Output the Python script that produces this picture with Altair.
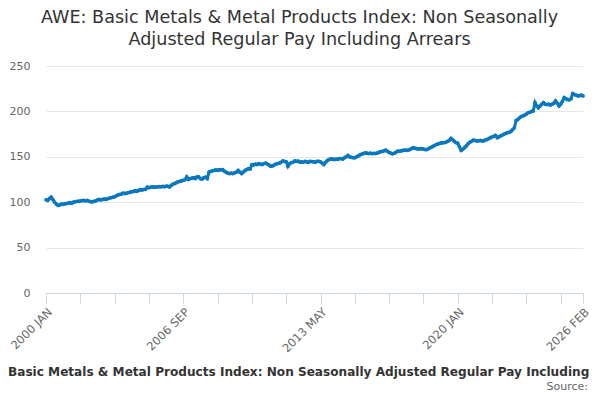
import altair as alt
import pandas as pd

MONTHS = ["JAN", "FEB", "MAR", "APR", "MAY", "JUN", "JUL", "AUG", "SEP", "OCT", "NOV", "DEC"]

y2000 = [102.7, 102.0, 104.0, 105.7, 103.0, 100.0, 98.0, 96.5, 97.0, 98.0, 97.5, 98.3]
y2001 = [98.5, 99.0, 99.5, 98.8, 100.0, 100.5, 101.0, 100.8, 101.5, 101.7, 102.0, 101.5]
y2002 = [102.0, 101.2, 100.4, 100.6, 101.0, 101.5, 102.5, 103.0, 102.5, 103.0, 103.5, 103.0]
y2003 = [104.0, 104.5, 105.0, 105.5, 106.0, 107.0, 108.0, 108.6, 109.0, 110.0, 109.5, 110.0]
y2004 = [110.5, 111.0, 111.5, 112.0, 112.5, 112.0, 113.0, 113.8, 113.5, 114.0, 114.2, 116.7]
y2005 = [116.0, 116.5, 116.7, 117.0, 116.5, 117.0, 117.2, 117.0, 117.5, 117.0, 117.8, 117.5]
y2006 = [116.8, 118.5, 120.0, 120.5, 121.5, 122.5, 123.0, 123.5, 124.0, 124.8, 128.0, 125.0]
y2007 = [126.0, 126.5, 127.0, 126.0, 128.0, 127.8, 126.0, 125.5, 127.0, 127.5, 126.0, 133.0]
y2008 = [134.0, 134.5, 135.0, 135.5, 135.0, 136.0, 135.5, 136.0, 134.0, 133.0, 132.0, 131.5]
y2009 = [132.0, 131.5, 132.5, 133.0, 135.0, 133.0, 131.5, 133.0, 135.0, 136.0, 137.0, 136.5]
y2010 = [141.4, 141.0, 142.0, 141.5, 142.5, 142.0, 141.5, 142.5, 143.0, 142.0, 141.0, 139.5]
y2011 = [140.0, 141.0, 142.0, 142.5, 143.0, 144.0, 145.4, 145.0, 144.5, 139.5, 142.5, 143.5]
y2012 = [144.0, 145.4, 145.0, 145.2, 144.0, 144.5, 144.0, 145.0, 144.5, 144.0, 145.0, 144.8]
y2013 = [144.5, 144.0, 145.0, 145.0, 144.5, 143.0, 141.5, 144.0, 146.0, 147.0, 147.8, 147.5]
y2014 = [147.0, 147.5, 147.2, 148.0, 148.0, 147.5, 149.0, 150.0, 151.5, 150.0, 149.5, 149.0]
y2015 = [149.0, 150.0, 151.0, 152.0, 153.0, 153.5, 154.4, 154.0, 153.5, 154.0, 153.5, 153.7]
y2016 = [153.7, 154.0, 155.0, 155.5, 156.0, 156.5, 157.4, 156.0, 155.0, 154.0, 153.3, 154.0]
y2017 = [155.0, 156.3, 156.0, 156.5, 157.0, 157.4, 157.0, 157.4, 158.0, 159.0, 160.0, 159.5]
y2018 = [159.0, 158.5, 159.0, 158.9, 158.5, 158.0, 158.0, 159.0, 160.0, 161.0, 162.0, 163.0]
y2019 = [164.0, 164.4, 165.0, 165.5, 165.5, 166.0, 167.0, 168.0, 170.3, 169.0, 167.0, 165.5]
y2020 = [165.0, 161.0, 157.0, 158.5, 160.0, 162.0, 164.4, 166.0, 167.0, 168.3, 168.0, 167.5]
y2021 = [167.6, 168.0, 167.6, 167.5, 168.5, 169.0, 170.0, 171.0, 172.0, 172.5, 173.6, 171.0]
y2022 = [172.0, 173.0, 174.0, 175.0, 175.8, 176.5, 177.0, 178.0, 180.0, 182.0, 190.0, 191.0]
y2023 = [193.0, 194.3, 195.0, 196.0, 197.0, 198.7, 199.0, 200.0, 200.5, 209.8, 206.0, 204.0]
y2024 = [206.0, 208.0, 209.8, 208.0, 207.5, 208.0, 207.0, 208.0, 209.0, 211.6, 209.0, 206.0]
y2025 = [208.0, 211.0, 215.3, 214.0, 213.0, 212.7, 214.0, 219.7, 218.5, 218.0, 217.0, 217.5]
y2026 = [217.9, 217.0]

years = {
    2000: y2000, 2001: y2001, 2002: y2002, 2003: y2003, 2004: y2004, 2005: y2005,
    2006: y2006, 2007: y2007, 2008: y2008, 2009: y2009, 2010: y2010, 2011: y2011,
    2012: y2012, 2013: y2013, 2014: y2014, 2015: y2015, 2016: y2016, 2017: y2017,
    2018: y2018, 2019: y2019, 2020: y2020, 2021: y2021, 2022: y2022, 2023: y2023,
    2024: y2024, 2025: y2025, 2026: y2026,
}

labels, values = [], []
for yr, vals in years.items():
    for i, v in enumerate(vals):
        labels.append(f"{yr} {MONTHS[i]}")
        values.append(v)

shown_labels = ["2000 JAN", "2006 SEP", "2013 MAY", "2020 JAN", "2026 FEB"]
tick_values = labels[0:len(labels) - 1:20] + [labels[-1]]

title_lines = ["AWE: Basic Metals & Metal Products Index: Non Seasonally",
               "Adjusted Regular Pay Including Arrears"]
caption = "Basic Metals & Metal Products Index: Non Seasonally Adjusted Regular Pay Including Arrears"
source = "Source:"

df = pd.DataFrame({"month": labels, "value": values})

label_expr = "indexof(" + str(shown_labels) + ", datum.value) >= 0 ? datum.value : ''"

base = alt.Chart(df)

line = base.mark_line(
    color="#0a78bf", strokeWidth=3,
    point=alt.OverlayMarkDef(filled=True, size=14, color="#0a78bf"),
).encode(
    x=alt.X("month:O", sort=None,
            scale=alt.Scale(type="point", padding=0),
            axis=alt.Axis(title=None, values=tick_values, labelExpr=label_expr,
                          labelAngle=-45, labelAlign="right", labelBaseline="top",
                          labelFontSize=11.5, labelColor="#666666",
                          labelFont="DejaVu Sans", domainColor="#ccd6eb",
                          tickColor="#ccd6eb", tickSize=10, labelPadding=3,
                          grid=False)),
    y=alt.Y("value:Q",
            scale=alt.Scale(domain=[0, 250], nice=False, zero=True),
            axis=alt.Axis(title=None, values=[0, 50, 100, 150, 200, 250],
                          labelFontSize=11, labelColor="#666666", labelFont="DejaVu Sans",
                          domain=False, ticks=False, labelPadding=16,
                          gridColor="#e6e6e6", gridWidth=1)),
)

cap = alt.Chart(pd.DataFrame({"t": [caption]})).mark_text(
    align="left", baseline="alphabetic", fontSize=12.1, fontWeight="bold",
    font="DejaVu Sans", color="#333333",
).encode(text="t:N", x=alt.value(-38), y=alt.value(310))

src = alt.Chart(pd.DataFrame({"t": [source]})).mark_text(
    align="right", baseline="alphabetic", fontSize=11,
    font="DejaVu Sans", color="#666666",
).encode(text="t:N", x=alt.value(542), y=alt.value(324))

chart = alt.layer(line, cap, src).properties(
    width=537, height=227,
    padding={"left": 38, "top": 58, "right": 9, "bottom": 99},
    autosize=alt.AutoSizeParams(type="none"),
    title=alt.TitleParams(text=title_lines, anchor="middle", fontSize=17.6,
                          fontWeight="normal", font="DejaVu Sans", color="#333333",
                          lineHeight=22, dx=-15, offset=11),
).configure_view(stroke=None)

chart.save("out.html", embed_options={"renderer": "svg", "actions": False})
